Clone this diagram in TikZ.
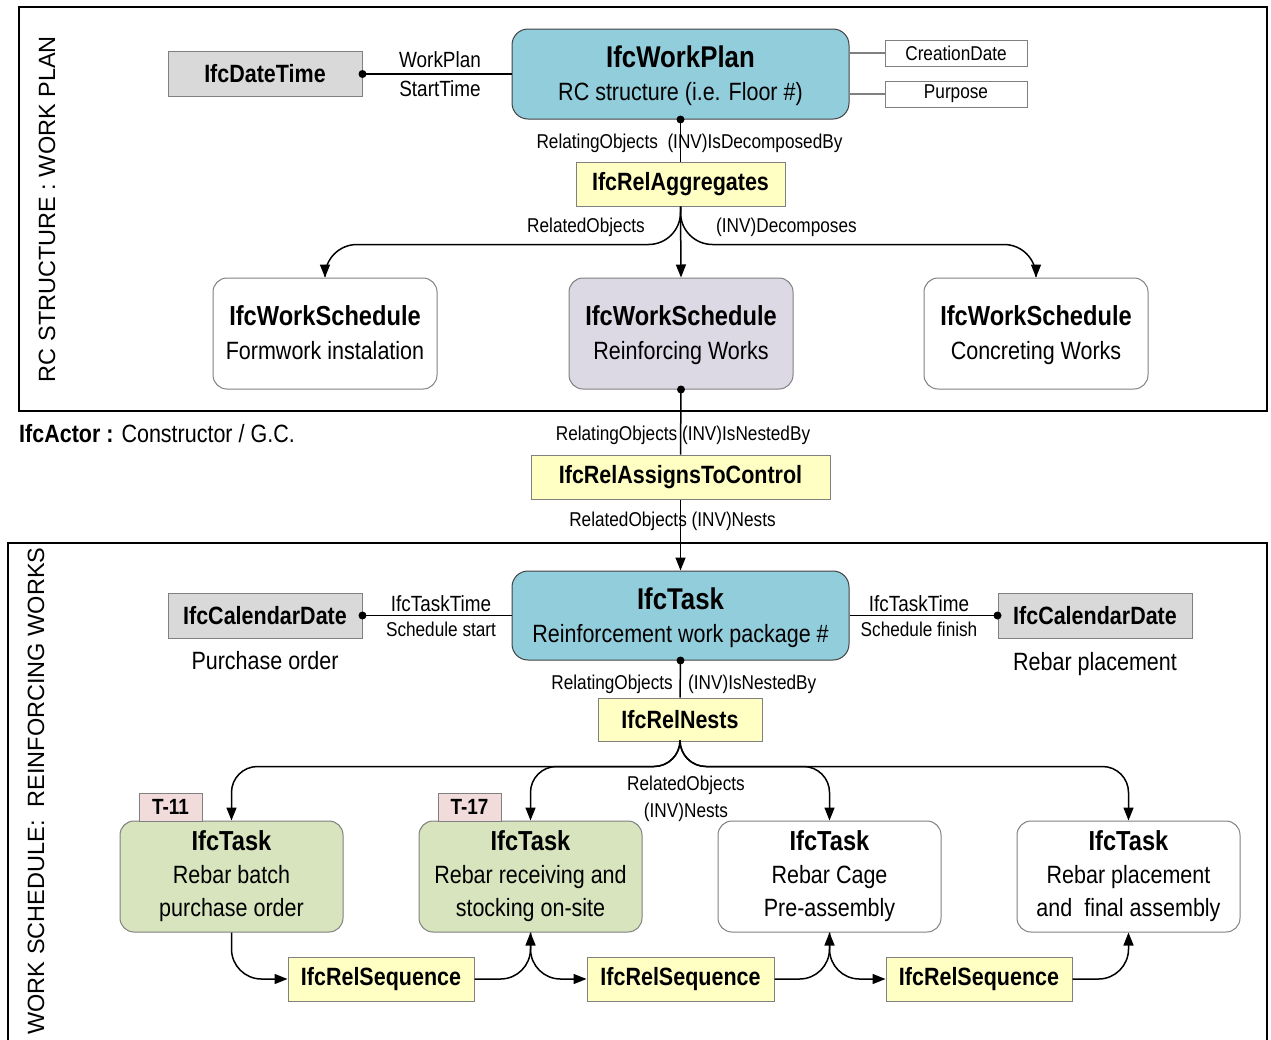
\documentclass[tikz,border=0pt]{standalone}
\usepackage{fontspec}
\setmainfont{Liberation Sans}[FakeStretch=0.86]
\newfontfamily\widesans{Liberation Sans}
\usetikzlibrary{arrows.meta,calc}

\definecolor{planblue}{HTML}{92CDDC}
\definecolor{relyellow}{HTML}{FFFFC4}
\definecolor{dategray}{HTML}{D9D9D9}
\definecolor{schedlav}{HTML}{DCD8E4}
\definecolor{taskgreen}{HTML}{D7E4BD}
\definecolor{tagpink}{HTML}{F2DCDB}
\definecolor{edgegray}{HTML}{808080}

\newcommand\fsz[2]{\fontsize{#1}{#2}\selectfont}

\begin{document}
\begin{tikzpicture}[x=1pt,y=-1pt,
  box/.style={draw=edgegray, line width=1pt, inner sep=0pt, align=center},
  relbox/.style={box, fill=relyellow, minimum height=44pt, font=\fsz{25}{30}\bfseries},
  datebox/.style={box, fill=dategray, minimum width=194pt, minimum height=45pt, font=\fsz{25}{30}\bfseries},
  mainbox/.style={box, draw=black!75, rounded corners=16pt, fill=planblue, minimum width=337pt, minimum height=90pt, text depth=1pt, font=\fsz{25}{33}},
  schedbox/.style={box, rounded corners=14pt, minimum width=224pt, minimum height=111pt, text depth=1pt, font=\fsz{25}{34}},
  taskbox/.style={box, rounded corners=14pt, minimum width=223pt, minimum height=111pt, text depth=5pt, font=\fsz{25}{33}},
  attrbox/.style={box, minimum width=142pt, minimum height=26pt, font=\fsz{20}{24}},
  tagbox/.style={box, fill=tagpink, minimum width=63pt, minimum height=28pt, font=\fsz{22}{26}\bfseries},
  lbl/.style={inner sep=0pt, font=\fsz{20}{24}},
  biglbl/.style={inner sep=0pt, font=\fsz{22}{26}},
  conn/.style={line width=1.5pt},
  attrline/.style={line width=1.2pt, draw=edgegray},
  arr/.style={conn, -{Triangle[length=13pt,width=10pt]}},
  frame/.style={line width=2.2pt},
  sidetitle/.style={rotate=90, inner sep=0pt, font=\widesans\fsz{23.5}{28}}
]
\useasboundingbox (0,0) rectangle (1271,1039);

% ---------------- frames ----------------
\draw[frame] (19,7) rectangle (1267,411);
\draw[frame] (8,1045) -- (8,543) -- (1267,543) -- (1267,1045);
\node[sidetitle] (plantitle) at (47,209) {RC STRUCTURE : WORK PLAN};
\node[sidetitle] (schedtitle) at (36,791) {WORK SCHEDULE:\ \ REINFORCING WORKS};

% ---------------- work plan level ----------------
\node[datebox] (datetime) at (265,74) {IfcDateTime};
\node[mainbox] (workplan) at (680.5,74) {{\fsz{30}{33}\bfseries IfcWorkPlan}\\RC structure (i.e. Floor \#)};
\node[attrbox] (creation) at (956,53) {CreationDate};
\node[attrbox] (purpose) at (956,94) {Purpose};
\node[relbox, minimum width=209pt] (agg) at (680.5,184) {IfcRelAggregates};

\node[schedbox] (ws1) at (325,333.5) {{\fsz{27.5}{34}\bfseries IfcWorkSchedule}\\Formwork instalation};
\node[schedbox, fill=schedlav] (ws2) at (681,333.5) {{\fsz{27.5}{34}\bfseries IfcWorkSchedule}\\Reinforcing Works};
\node[schedbox] (ws3) at (1036,333.5) {{\fsz{27.5}{34}\bfseries IfcWorkSchedule}\\Concreting Works};

\draw[conn] (datetime.east) -- (workplan.west);
\fill (datetime.east) circle[radius=4pt];
\node[biglbl, anchor=base] (wplbl) at (440,67) {WorkPlan};
\node[biglbl, anchor=base] (stlbl) at (440,96) {StartTime};

\draw[attrline] (creation.west -| workplan.east) -- (creation.west);
\draw[attrline] (purpose.west -| workplan.east) -- (purpose.west);

\draw[conn] (workplan.south) -- (agg.north);
\fill (workplan.south) circle[radius=4pt];
\node[lbl, anchor=base] (decomplbl) at (689.5,148) {RelatingObjects\ \ (INV)IsDecomposedBy};

\draw[arr, rounded corners=32pt] (agg.south) |- ($(ws1.north)+(0,-33)$) -- (ws1.north);
\draw[arr] (agg.south) -- (ws2.north);
\draw[arr, rounded corners=32pt] (agg.south) |- ($(ws3.north)+(0,-33)$) -- (ws3.north);
\node[lbl, anchor=base east] (relobjlbl) at (645,232) {RelatedObjects};
\node[lbl, anchor=base west] (decomplbl2) at (716,232) {(INV)Decomposes};

% ---------------- assignment between levels ----------------
\node[anchor=base west, inner sep=0pt, font=\fsz{25}{30}] (actor) at (19,442) {\textbf{IfcActor :} Constructor / G.C.};
\node[relbox, minimum width=299pt] (assign) at (680.5,477) {IfcRelAssignsToControl};
\draw[conn] (ws2.south) -- (assign.north);
\fill (ws2.south) circle[radius=4pt];
\node[lbl, anchor=base] (nestedlbl) at (683,440) {RelatingObjects (INV)IsNestedBy};

% ---------------- work schedule level ----------------
\node[mainbox, minimum height=89pt] (task) at (680.5,615.5) {{\fsz{30}{33}\bfseries IfcTask}\\Reinforcement work package \#};
\draw[arr] (assign.south) -- (task.north);
\node[lbl, anchor=base] (nestslbl) at (672.5,526) {RelatedObjects (INV)Nests};

\node[datebox] (cal1) at (265,615.5) {IfcCalendarDate};
\node[datebox] (cal2) at (1095,615.5) {IfcCalendarDate};
\node[inner sep=0pt, font=\fsz{25}{30}, anchor=base] (purch) at (265,669) {Purchase order};
\node[inner sep=0pt, font=\fsz{25}{30}, anchor=base] (placement) at (1095,670) {Rebar placement};

\draw[conn] (cal1.east) -- (task.west);
\fill (cal1.east) circle[radius=4pt];
\draw[conn] (task.east) -- (cal2.west);
\fill (cal2.west) circle[radius=4pt];
\node[biglbl, anchor=base] (tt1) at (441,611) {IfcTaskTime};
\node[lbl, anchor=base] (sstart) at (441,636) {Schedule start};
\node[biglbl, anchor=base] (tt2) at (919,611) {IfcTaskTime};
\node[lbl, anchor=base] (sfinish) at (919,636) {Schedule finish};

\node[relbox, minimum width=164pt, minimum height=43pt] (nests) at (680,719.5) {IfcRelNests};
\draw[conn] (task.south) -- (nests.north);
\fill (task.south) circle[radius=4pt];
\node[lbl, anchor=base east] (relating2) at (673,689) {RelatingObjects};
\node[lbl, anchor=base west] (nested2) at (688,689) {(INV)IsNestedBy};

\node[taskbox, fill=taskgreen] (t1) at (231.5,876.5) {{\fsz{27.5}{33}\bfseries IfcTask}\\Rebar batch\\purchase order};
\node[taskbox, fill=taskgreen] (t2) at (530.5,876.5) {{\fsz{27.5}{33}\bfseries IfcTask}\\Rebar receiving and\\stocking on-site};
\node[taskbox] (t3) at (829.5,876.5) {{\fsz{27.5}{33}\bfseries IfcTask}\\Rebar Cage\\Pre-assembly};
\node[taskbox] (t4) at (1128.5,876.5) {{\fsz{27.5}{33}\bfseries IfcTask}\\Rebar placement\\and\ \ final assembly};

\node[tagbox] (tag1) at (170.5,807) {T-11};
\node[tagbox] (tag2) at (469.5,807) {T-17};

\draw[arr, rounded corners=26pt] (nests.south) |- ($(t1.north)+(0,-54)$) -- (t1.north);
\draw[arr, rounded corners=26pt] (nests.south) |- ($(t2.north)+(0,-54)$) -- (t2.north);
\draw[arr, rounded corners=26pt] (nests.south) |- ($(t3.north)+(0,-54)$) -- (t3.north);
\draw[arr, rounded corners=26pt] (nests.south) |- ($(t4.north)+(0,-54)$) -- (t4.north);
\node[lbl, anchor=base] (relobj3) at (686,790) {RelatedObjects};
\node[lbl, anchor=base] (invnests3) at (686,817) {(INV)Nests};

\node[relbox, minimum width=186pt] (seq1) at (381,979) {IfcRelSequence};
\node[relbox, minimum width=187pt] (seq2) at (680.5,979) {IfcRelSequence};
\node[relbox, minimum width=186pt] (seq3) at (979,979) {IfcRelSequence};

\draw[arr, rounded corners=30pt] (t1.south) |- (seq1.west);
\draw[arr, rounded corners=30pt] (seq1.east) -| (t2.south);
\draw[arr, rounded corners=30pt] (t2.south) |- (seq2.west);
\draw[arr, rounded corners=30pt] (seq2.east) -| (t3.south);
\draw[arr, rounded corners=30pt] (t3.south) |- (seq3.west);
\draw[arr, rounded corners=30pt] (seq3.east) -| (t4.south);
\end{tikzpicture}
\end{document}
